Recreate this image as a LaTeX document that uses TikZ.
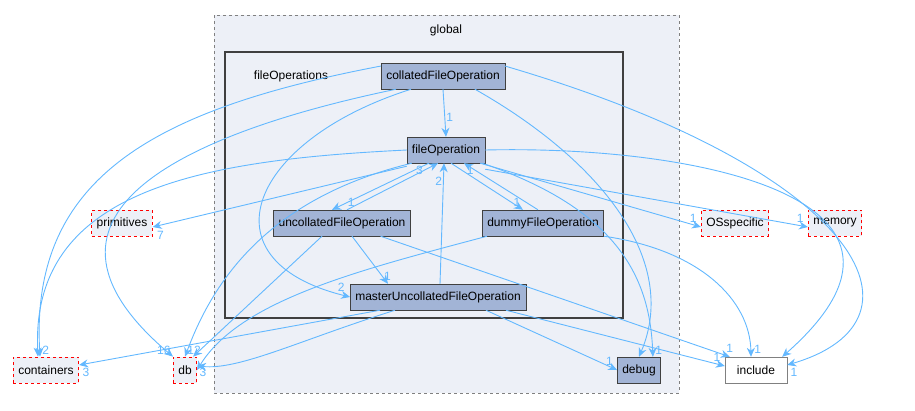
\documentclass[tikz,border=0pt]{standalone}
\usepackage{fontspec}
\setmainfont{Liberation Sans}
\usetikzlibrary{arrows.meta}
\definecolor{edgeblue}{HTML}{63B8FF}
\definecolor{nodefill}{HTML}{A2B4D6}
\definecolor{clusterfill}{HTML}{EDF0F7}
\begin{document}
\begin{tikzpicture}[x=1pt,y=-1pt,font=\fontsize{12}{14}\selectfont,
  dir/.style={draw=black!75,fill=nodefill,minimum height=26pt,inner xsep=5pt},
  ext/.style={draw=red,dashed,thick,fill=clusterfill,minimum height=26pt,inner xsep=5pt},
  dep/.style={draw=edgeblue,line width=0.9pt,-{Stealth[length=9pt,width=8pt]}},
  num/.style={text=edgeblue,font=\fontsize{12}{14}\selectfont,inner sep=1pt}]
  \useasboundingbox (0,0) rectangle (915,410);
  % clusters
  \draw[gray,dashed,thick,fill=clusterfill] (214,15) rectangle (679,393);
  \node at (446,30) {global};
  \draw[black!75,line width=1.5pt] (225,52) rectangle (623,318);
  \node at (291,76) {fileOperations};
  % nodes
  \node[dir] (collated) at (443,76) {collatedFileOperation};
  \node[dir] (fileop) at (446,150) {fileOperation};
  \node[dir] (uncollated) at (342,223) {uncollatedFileOperation};
  \node[dir] (dummy) at (543,223) {dummyFileOperation};
  \node[dir] (master) at (438,297) {masterUncollatedFileOperation};
  \node[ext] (primitives) at (122,223) {primitives};
  \node[ext] (osspec) at (735,223) {OSspecific};
  \node[ext] (memory) at (835,223) {memory};
  \node[ext] (containers) at (46,370) {containers};
  \node[ext] (db) at (185,370) {db};
  \node[dir] (debug) at (639,370) {debug};
  \node[draw=gray,fill=white,minimum height=26pt,minimum width=62pt] (include) at (756,370) {include};
  % collatedFileOperation
  \draw[dep] (collated.south) -- (fileop.north) node[num,pos=0.6,right] {1};
  \draw[dep] ([yshift=10pt]collated.west) .. controls (150,110) and (30,180) .. ([xshift=-6pt]containers.north) node[num,above right=1pt] {2};
  \draw[dep] ([xshift=15pt]collated.south west) .. controls (200,130) and (0,210) .. (db.north west) node[num,above left=1pt] {16};
  \draw[dep] ([xshift=30pt]collated.south west) .. controls (250,140) and (200,260) .. (master.west) node[num,above left=4pt] {2};
  \draw[dep] ([xshift=-30pt]collated.south east) .. controls (600,160) and (680,260) .. (debug.north);
  \draw[dep] ([yshift=10pt]collated.east) .. controls (860,170) and (940,320) .. ([yshift=5pt]include.east) node[num,below right=2pt] {1};
  % fileOperation
  \draw[dep] ([xshift=22pt]fileop.south west) -- ([xshift=-10pt]uncollated.north) node[num,pos=0.85,right] {1};
  \draw[dep] ([xshift=5pt]uncollated.north) -- ([xshift=-8pt]fileop.south) node[num,pos=0.85,left] {3};
  \draw[dep] ([xshift=5pt]fileop.south) -- ([xshift=-20pt]dummy.north) node[num,pos=0.85,right] {1};
  \draw[dep] ([xshift=-5pt]dummy.north) -- ([xshift=18pt]fileop.south) node[num,pos=0.85,left] {1};
  \draw[dep] ([xshift=2pt]master.north) -- ([xshift=-2pt]fileop.south) node[num,pos=0.85,left] {2};
  \draw[dep] ([yshift=-3pt]fileop.south west) -- ([yshift=-4pt]primitives.east) node[num,below right=3pt] {7};
  \draw[dep] (fileop.west) .. controls (200,160) and (30,190) .. ([xshift=-8pt]containers.north);
  \draw[dep] ([xshift=5pt]fileop.south west) .. controls (260,200) and (210,290) .. (db.north) node[num,above right=1pt] {12};
  \draw[dep] ([xshift=-5pt]fileop.south east) -- ([yshift=-4pt]osspec.west) node[num,above left=3pt] {1};
  \draw[dep] ([yshift=-6pt]fileop.south east) -- ([yshift=-4pt]memory.west) node[num,above left=3pt] {1};
  \draw[dep] ([xshift=-3pt]fileop.south east) .. controls (620,210) and (650,280) .. ([xshift=-8pt]debug.north east) node[num,above right=1pt] {1};
  \draw[dep] (fileop.east) .. controls (700,145) and (960,200) .. ([xshift=-5pt]include.north east);
  % uncollatedFileOperation
  \draw[dep] ([xshift=10pt]uncollated.south) -- ([xshift=-50pt]master.north) node[num,pos=0.85,right] {1};
  \draw[dep] ([xshift=-20pt]uncollated.south) -- ([xshift=-4pt]db.north east);
  \draw[dep] ([xshift=-30pt]uncollated.south east) -- ([xshift=5pt]include.north west) node[num,above=3pt] {1};
  % dummyFileOperation
  \draw[dep] ([xshift=5pt]dummy.south west) .. controls (360,270) and (240,300) .. (db.east);
  \draw[dep] (dummy.south east) .. controls (700,250) and (750,300) .. ([xshift=-5pt]include.north) node[num,above right=2pt] {1};
  % masterUncollatedFileOperation
  \draw[dep] ([xshift=30pt]master.south west) -- ([yshift=5pt]containers.east) node[num,below right=2pt] {3};
  \draw[dep] ([xshift=45pt]master.south west) .. controls (300,340) and (240,370) .. ([yshift=4pt]db.east) node[num,below right=1pt] {3};
  \draw[dep] ([xshift=-40pt]master.south east) -- (debug.west) node[num,above left=3pt] {1};
  \draw[dep] ([xshift=-20pt]master.south east) -- ([yshift=4pt]include.west) node[num,above left=3pt] {1};
\end{tikzpicture}
\end{document}
